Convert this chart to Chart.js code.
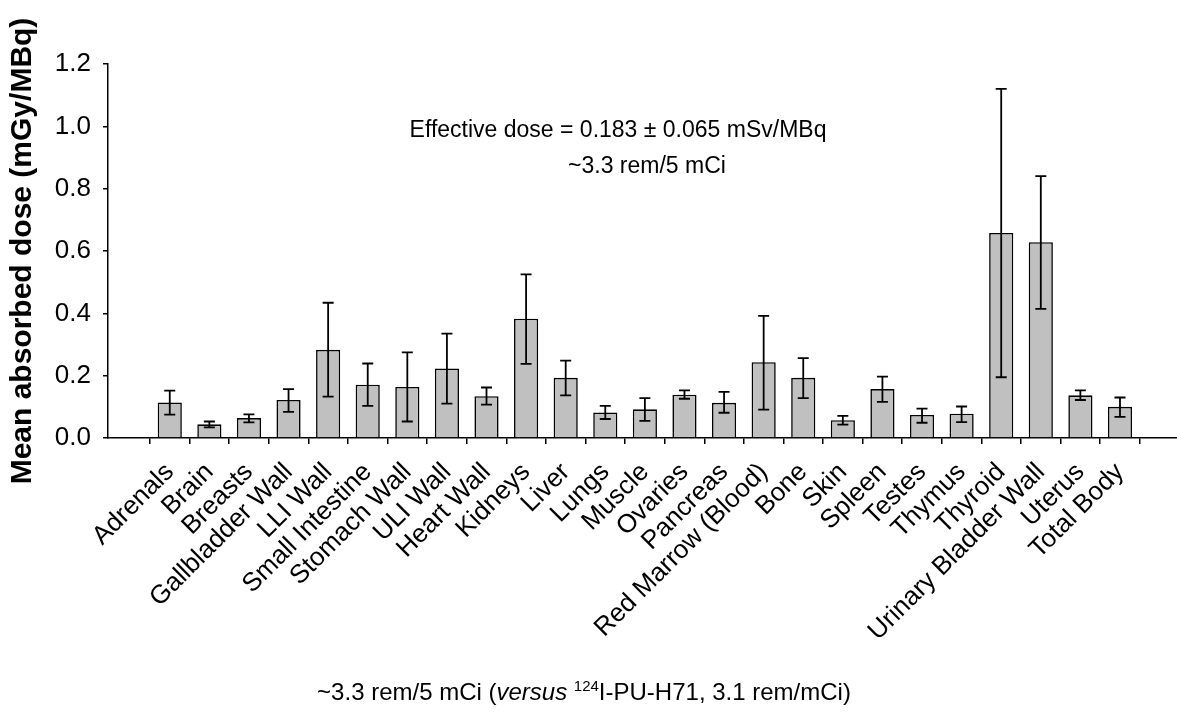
<!DOCTYPE html>
<html>
<head>
<meta charset="utf-8">
<script src="https://cdn.jsdelivr.net/npm/chart.js@4.4.0/dist/chart.umd.min.js"></script>
<style>
  html, body { margin: 0; padding: 0; background: #fff; }
  #wrap { width: 1177px; height: 715px; }
</style>
</head>
<body>
<div id="wrap"><canvas id="doseChart" width="1177" height="715"></canvas></div>
<script>
/* --- Data --- */
const organs = ['Adrenals', 'Brain', 'Breasts', 'Gallbladder Wall', 'LLI Wall', 'Small Intestine',
  'Stomach Wall', 'ULI Wall', 'Heart Wall', 'Kidneys', 'Liver', 'Lungs', 'Muscle', 'Ovaries',
  'Pancreas', 'Red Marrow (Blood)', 'Bone', 'Skin', 'Spleen', 'Testes', 'Thymus', 'Thyroid',
  'Urinary Bladder Wall', 'Uterus', 'Total Body'];
const meanDose = [0.114, 0.044, 0.064, 0.122, 0.283, 0.171, 0.164, 0.223, 0.134, 0.383, 0.193, 0.082,
  0.092, 0.139, 0.113, 0.243, 0.193, 0.057, 0.157, 0.074, 0.078, 0.658, 0.628, 0.137, 0.100];
const errHigh = [0.152, 0.053, 0.076, 0.157, 0.434, 0.239, 0.275, 0.335, 0.162, 0.525, 0.248, 0.103,
  0.128, 0.153, 0.148, 0.392, 0.256, 0.071, 0.197, 0.094, 0.101, 1.120, 0.840, 0.153, 0.130];
const errLow = [0.075, 0.034, 0.050, 0.084, 0.133, 0.103, 0.053, 0.110, 0.107, 0.238, 0.137, 0.061,
  0.055, 0.126, 0.081, 0.091, 0.128, 0.043, 0.116, 0.049, 0.051, 0.195, 0.414, 0.122, 0.068];
const yMin = 0, yMax = 1.2, yStep = 0.1;

const FONT = "'Liberation Sans', Arial, sans-serif";
Chart.defaults.font.family = FONT;
Chart.defaults.color = '#000';

/* --- Error bars --- */
const CAP = 5.5;
const errorBarPlugin = {
  id: 'errorBars',
  afterDatasetsDraw(chart) {
    const { ctx, scales: { x, y } } = chart;
    ctx.save();
    ctx.strokeStyle = '#000';
    ctx.lineWidth = 1.8;
    organs.forEach((_, i) => {
      const px = x.getPixelForValue(i);
      const top = y.getPixelForValue(errHigh[i]);
      const bot = y.getPixelForValue(errLow[i]);
      ctx.beginPath();
      ctx.moveTo(px, top); ctx.lineTo(px, bot);
      ctx.moveTo(px - CAP, top); ctx.lineTo(px + CAP, top);
      ctx.moveTo(px - CAP, bot); ctx.lineTo(px + CAP, bot);
      ctx.stroke();
    });
    ctx.restore();
  }
};

/* --- Text runs (italic, superscript) --- */
function drawRuns(ctx, runs, cx, baseline) {
  let total = 0;
  runs.forEach(r => { ctx.font = r.font; total += ctx.measureText(r.text).width; });
  let xPos = cx - total / 2;
  runs.forEach(r => {
    ctx.font = r.font;
    ctx.fillText(r.text, xPos, baseline + (r.dy || 0));
    xPos += ctx.measureText(r.text).width;
  });
}

const notesPlugin = {
  id: 'notes',
  afterDraw(chart) {
    const { ctx } = chart;
    ctx.save();
    ctx.fillStyle = '#000';
    ctx.textAlign = 'left';
    ctx.textBaseline = 'alphabetic';
    const f = '23px ' + FONT;
    drawRuns(ctx, [{ text: 'Effective dose = 0.183 \u00b1 0.065 mSv/MBq', font: f }], 618, 137);
    drawRuns(ctx, [{ text: '~3.3 rem/5 mCi', font: f }], 647, 173);
    // caption under the chart
    const c = '24px ' + FONT;
    drawRuns(ctx, [
      { text: '~3.3 rem/5 mCi (', font: c },
      { text: 'versus', font: 'italic 24px ' + FONT },
      { text: ' ', font: c },
      { text: '124', font: '15px ' + FONT, dy: -9 },
      { text: 'I-PU-H71, 3.1 rem/mCi)', font: c }
    ], 584, 700);
    ctx.restore();
  }
};

/* --- Chart --- */
const ctx = document.getElementById('doseChart').getContext('2d');
const chart = new Chart(ctx, {
  type: 'bar',
  data: {
    datasets: [{
      label: 'Mean absorbed dose',
      data: meanDose.map((v, i) => ({ x: i, y: v })),
      backgroundColor: '#c0c0c0',
      borderColor: '#000',
      borderWidth: 1.6,
      categoryPercentage: 1,
      barPercentage: 0.61
    }]
  },
  options: {
    responsive: false,
    animation: false,
    devicePixelRatio: 1,
    layout: { padding: { top: 64, right: 0, left: 0, bottom: 0 } },
    plugins: {
      legend: { display: false },
      tooltip: { enabled: false }
    },
    scales: {
      x: {
        type: 'linear',
        min: -1.02,
        max: 24.9,
        afterBuildTicks: scale => { scale.ticks = organs.map((_, i) => ({ value: i })); },
        afterFit: scale => { scale.height = 715 - 438; },
        ticks: {
          autoSkip: false,
          minRotation: 45,
          maxRotation: 45,
          padding: 13,
          font: { size: 26 },
          callback: v => organs[v]
        },
        grid: { drawOnChartArea: false, tickLength: 6, color: '#000', lineWidth: 1.5 },
        border: { color: '#000', width: 1.5 }
      },
      y: {
        min: yMin,
        max: yMax,
        afterFit: scale => { scale.width = 108; },
        ticks: {
          stepSize: yStep,
          maxTicksLimit: 13,
          padding: 12,
          font: { size: 26 },
          callback: (v, i) => (i % 2 === 0 ? v.toFixed(1) : '')
        },
        grid: { drawOnChartArea: false, tickLength: 5, color: '#000', lineWidth: 1.5 },
        border: { color: '#000', width: 1.5 },
        title: {
          display: true,
          text: 'Mean absorbed dose (mGy/MBq)',
          font: { size: 30, weight: 'bold' },
          padding: { top: 5, bottom: 0 }
        }
      }
    }
  },
  plugins: [errorBarPlugin, notesPlugin]
});
</script>
</body>
</html>
